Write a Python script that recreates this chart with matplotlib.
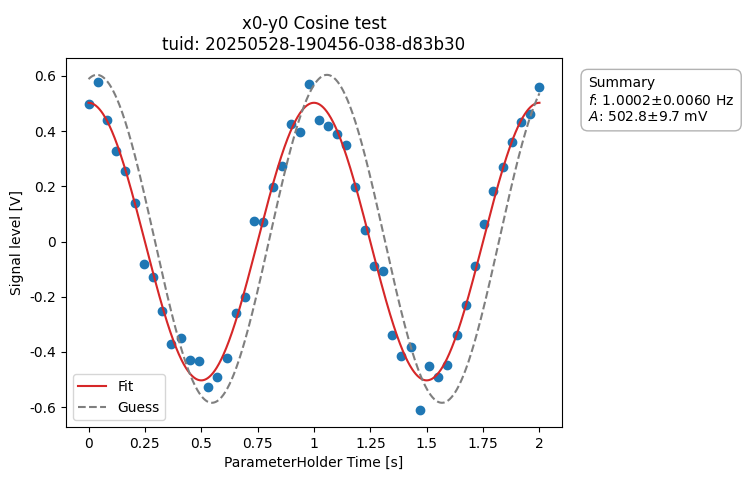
import numpy as np
import matplotlib
matplotlib.use("Agg")
import matplotlib.pyplot as plt
from matplotlib.ticker import FuncFormatter

# measured signal, 50 samples from 0 to 2 s
time_s = np.linspace(0, 2, 50)
signal_v = [
    0.50, 0.578, 0.44, 0.329, 0.257, 0.141, -0.08, -0.127, -0.25, -0.372,
    -0.35, -0.43, -0.434, -0.528, -0.49, -0.423, -0.26, -0.199, 0.076, 0.072,
    0.199, 0.275, 0.426, 0.398, 0.571, 0.441, 0.419, 0.39, 0.35, 0.199,
    0.043, -0.09, -0.105, -0.34, -0.416, -0.383, -0.611, -0.452, -0.49, -0.448,
    -0.34, -0.231, -0.09, 0.065, 0.184, 0.271, 0.361, 0.434, 0.463, 0.56,
]

# cosine model parameters: amplitude [V], frequency [Hz], phase [rad], offset [V]
fit_params = (0.5028, 1.0002, 0.0, 0.0)
guess_params = (0.594, 0.98, -0.228, 0.01)


def cosine(t, amp, freq, phase, offset):
    return amp * np.cos(2 * np.pi * freq * t + phase) + offset


t_fine = np.linspace(0, 2, 1000)

fig = plt.figure(figsize=(7.43, 4.8), dpi=100)
ax = fig.add_axes([0.0888, 0.1104, 0.6676, 0.7686])

ax.scatter(time_s, signal_v, color="C0", zorder=1)
ax.plot(t_fine, cosine(t_fine, *fit_params), color="C3", label="Fit")
ax.plot(t_fine, cosine(t_fine, *guess_params), color="C7", ls="--", label="Guess")

fmt = FuncFormatter(lambda v, _: f"{v:g}".replace("\u2212", "-"))
ax.xaxis.set_major_formatter(fmt)
ax.yaxis.set_major_formatter(fmt)
ax.set_xticks([0, 0.25, 0.5, 0.75, 1, 1.25, 1.5, 1.75, 2])

ax.set_xlabel("ParameterHolder Time [s]")
ax.set_ylabel("Signal level [V]")
ax.set_title("x0-y0 Cosine test\ntuid: 20250528-190456-038-d83b30")
ax.legend(loc="lower left")

summary = "Summary\n$f$: 1.0002±0.0060 Hz\n$A$: 502.8±9.7 mV"
fig.text(0.7914, 0.841, summary, va="top", ha="left",
         bbox=dict(boxstyle="round,pad=0.5", facecolor="white",
                   edgecolor="grey", alpha=0.6))

fig.savefig("out.png", dpi=100)
